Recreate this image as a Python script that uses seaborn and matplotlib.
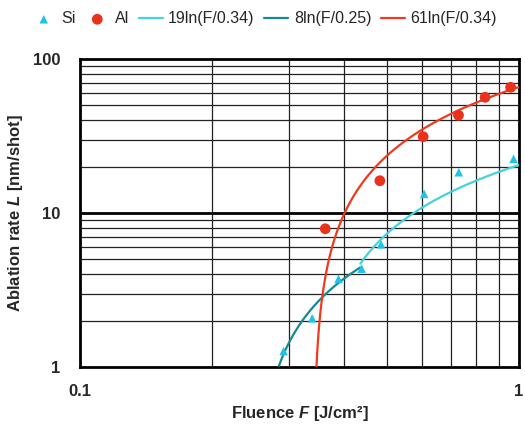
import numpy as np
import pandas as pd
import seaborn as sns
import matplotlib
matplotlib.use("Agg")
import matplotlib.pyplot as plt
from matplotlib.ticker import LogLocator, FixedLocator, NullFormatter, FixedFormatter

si_fluence = [0.291, 0.338, 0.388, 0.438, 0.485, 0.608, 0.729, 0.972]
si_rate = [1.27, 2.07, 3.73, 4.35, 6.26, 13.3, 18.4, 22.5]
al_fluence = [0.362, 0.482, 0.605, 0.728, 0.837, 0.957]
al_rate = [7.9, 16.2, 31.3, 43.1, 56.4, 65.5]

# fit lines: L = a * ln(F / F_th), drawn over the fluence range shown
fit_labels = ["19ln(F/0.34)", "8ln(F/0.25)", "61ln(F/0.34)"]
fit_a = [19, 8, 61]
fit_fth = [0.34, 0.25, 0.34]
fit_range = [(0.435, 1.0), (0.284, 0.435), (0.3456, 1.0)]
fit_colors = ["#45D3DA", "#168A8C", "#EE3A1E"]

sns.set_style("white")
plt.rcParams["font.family"] = ["Liberation Sans", "DejaVu Sans"]
plt.rcParams["mathtext.fontset"] = "custom"
plt.rcParams["mathtext.it"] = "Liberation Sans:bold:italic"
plt.rcParams["mathtext.rm"] = "Liberation Sans:bold"

fig = plt.figure(figsize=(5.25, 4.25), dpi=100)
ax = fig.add_axes([80 / 525, 1 - 367 / 425, 439 / 525, 308 / 425])
ax.set_xscale("log")
ax.set_yscale("log")

# grid first so marks sit on top
for v in [0.2, 0.3, 0.4, 0.5, 0.6, 0.7, 0.8, 0.9]:
    ax.axvline(v, color="#222222", lw=0.9, zorder=1)
for dec in [1, 10]:
    for m in range(2, 10):
        ax.axhline(dec * m, color="#222222", lw=0.9, zorder=1)
ax.axhline(10, color="black", lw=2.0, zorder=1)

df_si = pd.DataFrame({"F": si_fluence, "L": si_rate})
df_al = pd.DataFrame({"F": al_fluence, "L": al_rate})
sns.scatterplot(data=df_si, x="F", y="L", marker="^", color="#1EC3EC", s=38,
                edgecolor="none", label="Si", ax=ax, zorder=4)
sns.scatterplot(data=df_al, x="F", y="L", marker="o", color="#E8321C", s=60,
                edgecolor="none", label="Al", ax=ax, zorder=4)

for lab, a, fth, rng, c in zip(fit_labels, fit_a, fit_fth, fit_range, fit_colors):
    f = np.geomspace(rng[0], rng[1], 200)
    df_fit = pd.DataFrame({"F": f, "L": a * np.log(f / fth)})
    sns.lineplot(data=df_fit, x="F", y="L", color=c, lw=1.6, label=lab,
                 ax=ax, zorder=3, sort=False)

ax.set_xlim(0.1, 1)
ax.set_ylim(1, 100)
ax.xaxis.set_major_locator(FixedLocator([0.1, 1]))
ax.xaxis.set_major_formatter(FixedFormatter(["0.1", "1"]))
ax.xaxis.set_minor_locator(FixedLocator([0.2, 0.3, 0.4, 0.5, 0.6, 0.7, 0.8, 0.9]))
ax.xaxis.set_minor_formatter(NullFormatter())
ax.yaxis.set_major_locator(FixedLocator([1, 10, 100]))
ax.yaxis.set_major_formatter(FixedFormatter(["1", "10", "100"]))
ax.yaxis.set_minor_locator(LogLocator(base=10, subs=np.arange(2, 10)))
ax.yaxis.set_minor_formatter(NullFormatter())
ax.tick_params(axis="x", which="both", direction="in", length=3, width=1,
               labelsize=12, pad=12)
ax.tick_params(axis="y", which="both", length=0, labelsize=12, pad=14)
for t in ax.get_xticklabels() + ax.get_yticklabels():
    t.set_fontweight("bold")

for s in ax.spines.values():
    s.set_color("black")
    s.set_linewidth(2.0)

ax.set_xlabel("Fluence $F$ [J/cm²]", fontsize=12, fontweight="bold", labelpad=4)
ax.set_ylabel("Ablation rate $L$ [nm/shot]", fontsize=12, fontweight="bold", labelpad=6)
ax.yaxis.set_label_coords(-0.125, 0.5)

ax.legend(loc="center", bbox_to_anchor=(0.42, 1.13), ncol=5, frameon=False,
          fontsize=11.5, handlelength=1.5, handletextpad=0.35, columnspacing=0.6,
          borderaxespad=0)

fig.savefig("out.png", dpi=100)
